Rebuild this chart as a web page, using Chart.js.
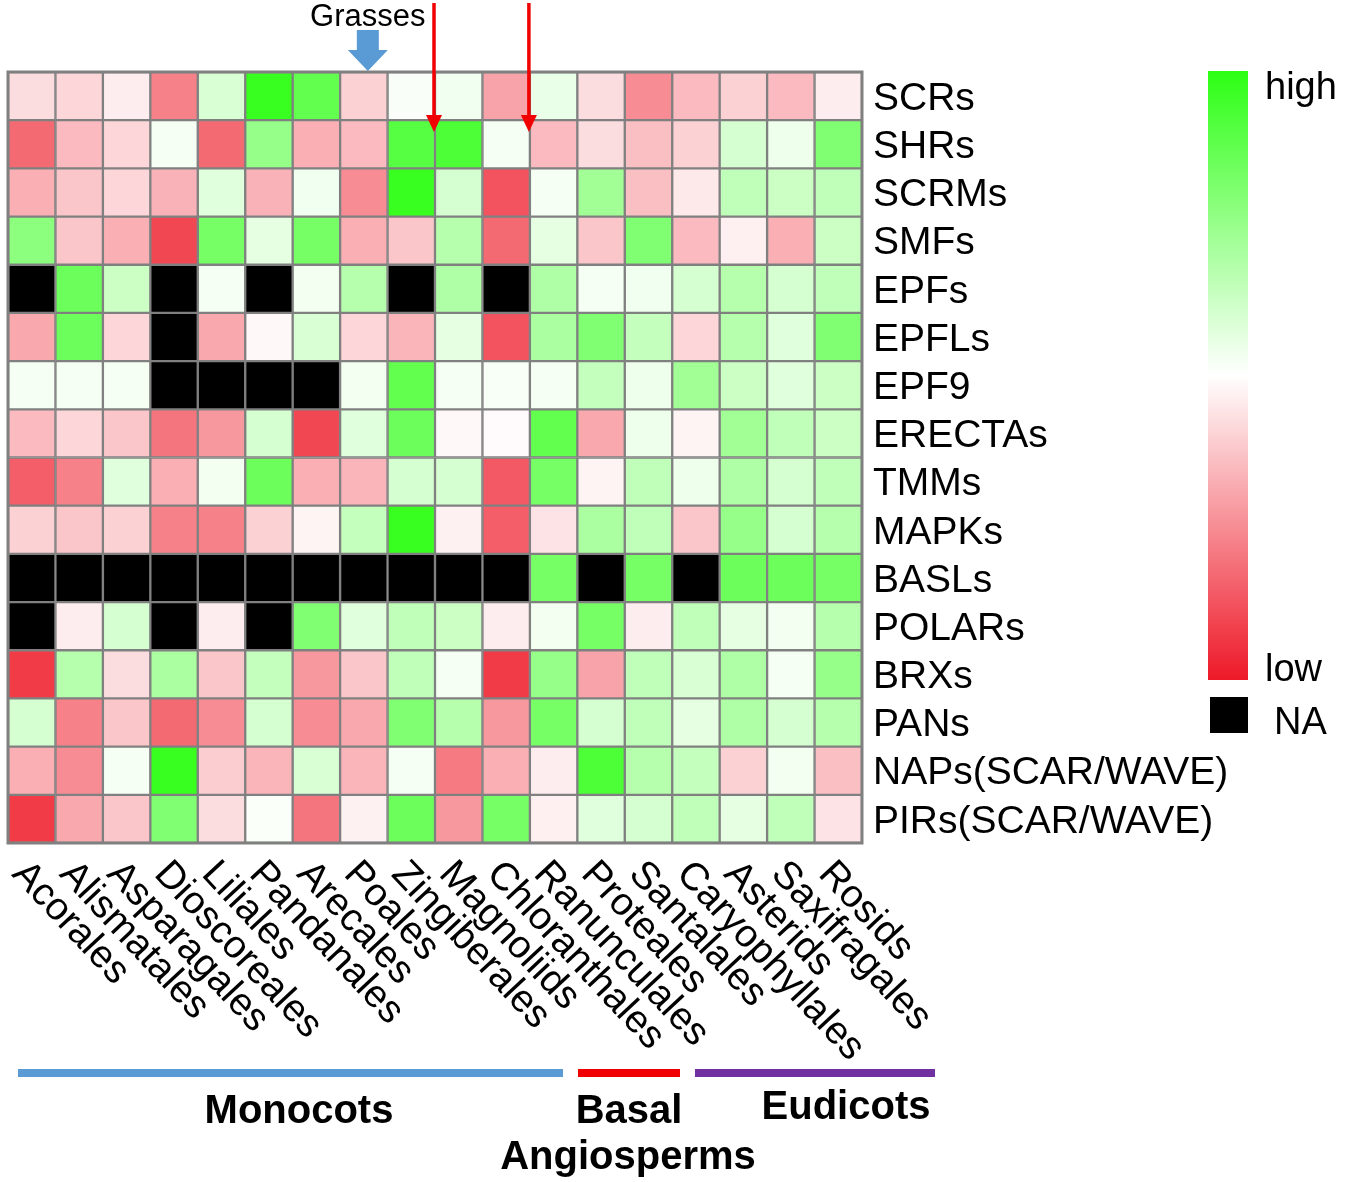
<!DOCTYPE html>
<html>
<head>
<meta charset="utf-8">
<script src="https://cdn.jsdelivr.net/npm/chart.js@4.4.1/dist/chart.umd.min.js"></script>
<style>
  html, body { margin: 0; padding: 0; background: #fff; }
  #wrap { width: 1350px; height: 1182px; position: relative; }
</style>
</head>
<body>
<div id="wrap"><canvas id="heatChart"></canvas></div>
<script>
// columns (plant orders / clades)
const taxa = ['Acorales', 'Alismatales', 'Asparagales', 'Dioscoreales', 'Liliales', 'Pandanales',
  'Arecales', 'Poales', 'Zingiberales', 'Magnoliids', 'Chloranthales', 'Ranunculales',
  'Proteales', 'Santalales', 'Caryophyllales', 'Asterids', 'Saxifragales', 'Rosids'];

// rows (gene families)
const geneRows = ['SCRs', 'SHRs', 'SCRMs', 'SMFs', 'EPFs', 'EPFLs', 'EPF9', 'ERECTAs', 'TMMs',
  'MAPKs', 'BASLs', 'POLARs', 'BRXs', 'PANs', 'NAPs(SCAR/WAVE)', 'PIRs(SCAR/WAVE)'];

// relative level, -1 = low (red), +1 = high (green), null = NA (black)
const vSCRs    = [-0.15, -0.18, -0.08, -0.55, 0.18, 0.95, 0.75, -0.2, 0.03, 0.07, -0.4, 0.1, -0.15, -0.5, -0.3, -0.2, -0.3, -0.08];
const vSHRs    = [-0.65, -0.3, -0.18, 0.05, -0.65, 0.5, -0.35, -0.3, 0.8, 0.85, 0.05, -0.3, -0.15, -0.28, -0.2, 0.2, 0.08, 0.6];
const vSCRMs   = [-0.35, -0.25, -0.18, -0.33, 0.15, -0.33, 0.07, -0.5, 0.95, 0.2, -0.75, 0.05, 0.45, -0.28, -0.1, 0.3, 0.25, 0.3];
const vSMFs    = [0.55, -0.25, -0.35, -0.8, 0.65, 0.12, 0.65, -0.35, -0.25, 0.35, -0.65, 0.12, -0.25, 0.6, -0.3, -0.07, -0.35, 0.25];
const vEPFs    = [null, 0.7, 0.25, null, 0.05, null, 0.06, 0.35, null, 0.38, null, 0.38, 0.05, 0.07, 0.2, 0.35, 0.2, 0.3];
const vEPFLs   = [-0.38, 0.7, -0.18, null, -0.38, -0.03, 0.18, -0.18, -0.32, 0.12, -0.75, 0.4, 0.6, 0.28, -0.18, 0.35, 0.15, 0.6];
const vEPF9    = [0.05, 0.05, 0.05, null, null, null, null, 0.06, 0.75, 0.05, 0.04, 0.05, 0.28, 0.08, 0.45, 0.25, 0.15, 0.25];
const vERECTAs = [-0.3, -0.18, -0.25, -0.6, -0.45, 0.2, -0.8, 0.15, 0.7, -0.03, -0.02, 0.75, -0.38, 0.08, -0.05, 0.45, 0.3, 0.25];
const vTMMs    = [-0.7, -0.55, 0.15, -0.35, 0.06, 0.7, -0.35, -0.32, 0.2, 0.2, -0.72, 0.65, -0.05, 0.3, 0.08, 0.38, 0.2, 0.3];
const vMAPKs   = [-0.2, -0.25, -0.2, -0.55, -0.55, -0.2, -0.05, 0.28, 0.95, -0.06, -0.7, -0.12, 0.4, 0.3, -0.25, 0.5, 0.2, 0.35];
const vBASLs   = [null, null, null, null, null, null, null, null, null, null, null, 0.65, null, 0.65, null, 0.7, 0.7, 0.65];
const vPOLARs  = [null, -0.08, 0.2, null, -0.08, null, 0.6, 0.15, 0.3, 0.25, -0.08, 0.06, 0.65, -0.08, 0.3, 0.12, 0.06, 0.35];
const vBRXs    = [-0.85, 0.35, -0.15, 0.4, -0.25, 0.28, -0.45, -0.25, 0.3, 0.05, -0.85, 0.5, -0.4, 0.3, 0.18, 0.38, 0.05, 0.5];
const vPANs    = [0.2, -0.55, -0.25, -0.65, -0.5, 0.2, -0.5, -0.38, 0.6, 0.35, -0.45, 0.65, 0.2, 0.3, 0.12, 0.38, 0.2, 0.35];
const vNAPs    = [-0.35, -0.5, 0.05, 0.95, -0.22, -0.32, 0.18, -0.32, 0.05, -0.58, -0.35, -0.08, 0.85, 0.35, 0.28, -0.2, 0.06, -0.28];
const vPIRs    = [-0.85, -0.38, -0.25, 0.6, -0.15, 0.02, -0.6, -0.06, 0.7, -0.45, 0.65, -0.07, 0.15, 0.2, 0.3, 0.12, 0.3, -0.12];

const valueRows = [vSCRs, vSHRs, vSCRMs, vSMFs, vEPFs, vEPFLs, vEPF9, vERECTAs, vTMMs,
  vMAPKs, vBASLs, vPOLARs, vBRXs, vPANs, vNAPs, vPIRs];

// clade groups under the x labels
const groupNames = ['Monocots', 'Basal', 'Eudicots'];

const FONT = '"Liberation Sans", Arial, Helvetica, sans-serif';
const HIGH = [45, 255, 20];
const LOW = [238, 25, 40];

function cellColor(v) {
    if (v === null) return '#000000';
    const t = Math.min(1, Math.abs(v));
    const end = v >= 0 ? HIGH : LOW;
    const c = end.map(e => Math.round(255 + (e - 255) * t));
    return 'rgb(' + c.join(',') + ')';
}

// one stacked dataset per column, each cell is one unit wide
const datasets = taxa.map((t, c) => ({
    label: t,
    data: geneRows.map(() => 1),
    backgroundColor: valueRows.map(row => cellColor(row[c])),
    borderColor: '#808080',
    borderWidth: 1.5,
    borderSkipped: false,
    barPercentage: 1,
    categoryPercentage: 1
}));

const decorPlugin = {
    id: 'decor',
    afterDraw(chart) {
        const ctx = chart.ctx;
        const x = chart.scales.x;
        const area = chart.chartArea;
        ctx.save();

        // outer frame
        ctx.strokeStyle = '#808080';
        ctx.lineWidth = 3;
        ctx.strokeRect(area.left, area.top, area.right - area.left, area.bottom - area.top);

        // rotated column labels
        ctx.fillStyle = '#000';
        ctx.font = '39px ' + FONT;
        ctx.textAlign = 'left';
        ctx.textBaseline = 'alphabetic';
        taxa.forEach((t, i) => {
            const cx = x.getPixelForValue(i + 0.5);
            ctx.save();
            ctx.translate(cx - 21, area.bottom + 32);
            ctx.rotate(47 * Math.PI / 180);
            ctx.fillText(t, 0, 0);
            ctx.restore();
        });

        // "Grasses" arrow over Poales
        const gx = x.getPixelForValue(7.5) + 4;
        ctx.font = '31px ' + FONT;
        ctx.textAlign = 'center';
        ctx.fillText('Grasses', gx, 26);
        ctx.fillStyle = '#5b9bd5';
        ctx.beginPath();
        ctx.moveTo(gx - 11, 30);
        ctx.lineTo(gx + 11, 30);
        ctx.lineTo(gx + 11, 50);
        ctx.lineTo(gx + 20, 50);
        ctx.lineTo(gx, 71);
        ctx.lineTo(gx - 20, 50);
        ctx.lineTo(gx - 11, 50);
        ctx.closePath();
        ctx.fill();

        // red arrows
        [9, 11].forEach(b => {
            const ax = x.getPixelForValue(b) - 1;
            ctx.strokeStyle = '#f00000';
            ctx.fillStyle = '#f00000';
            ctx.lineWidth = 3.5;
            ctx.beginPath();
            ctx.moveTo(ax, 3);
            ctx.lineTo(ax, 120);
            ctx.stroke();
            ctx.beginPath();
            ctx.moveTo(ax - 8, 115);
            ctx.lineTo(ax + 8, 115);
            ctx.lineTo(ax, 132);
            ctx.closePath();
            ctx.fill();
        });

        // colour scale legend
        const g = ctx.createLinearGradient(0, 71, 0, 680);
        g.addColorStop(0, 'rgb(' + HIGH.join(',') + ')');
        g.addColorStop(0.5, '#ffffff');
        g.addColorStop(1, 'rgb(' + LOW.join(',') + ')');
        ctx.fillStyle = g;
        ctx.fillRect(1208, 71, 40, 609);
        ctx.fillStyle = '#000';
        ctx.fillRect(1210, 697, 38, 36);
        ctx.font = '38px ' + FONT;
        ctx.textAlign = 'left';
        ctx.fillText('high', 1265, 99);
        ctx.fillText('low', 1265, 681);
        ctx.fillText('NA', 1274, 734);

        // clade bars and names
        const bars = [[18, 563, '#5b9bd5'], [578, 680, '#f00000'], [695, 935, '#7030a0']];
        bars.forEach(b => {
            ctx.fillStyle = b[2];
            ctx.fillRect(b[0], 1069, b[1] - b[0], 8);
        });
        ctx.fillStyle = '#000';
        ctx.font = 'bold 40px ' + FONT;
        ctx.textAlign = 'center';
        ctx.fillText(groupNames[0], 299, 1123);
        ctx.fillText(groupNames[1], 629, 1123);
        ctx.fillText(groupNames[2], 846, 1119);
        ctx.fillText('Angiosperms', 628, 1169);

        ctx.restore();
    }
};

const ctxHeat = document.getElementById('heatChart').getContext('2d');
new Chart(ctxHeat, {
    type: 'bar',
    data: { labels: geneRows, datasets: datasets },
    options: {
        indexAxis: 'y',
        responsive: true,
        maintainAspectRatio: false,
        animation: false,
        layout: { padding: { left: 8, top: 72, right: 0, bottom: 339 } },
        scales: {
            x: { type: 'linear', stacked: true, min: 0, max: taxa.length, display: false },
            y: {
                type: 'category',
                stacked: true,
                position: 'right',
                grid: { display: false, drawTicks: false },
                border: { display: false },
                ticks: { color: '#000', font: { size: 39, family: FONT }, padding: 11, labelOffset: 3, autoSkip: false },
                afterFit(scale) { scale.width = 488; }
            }
        },
        plugins: {
            legend: { display: false },
            tooltip: { enabled: false }
        }
    },
    plugins: [decorPlugin]
});
</script>
</body>
</html>
